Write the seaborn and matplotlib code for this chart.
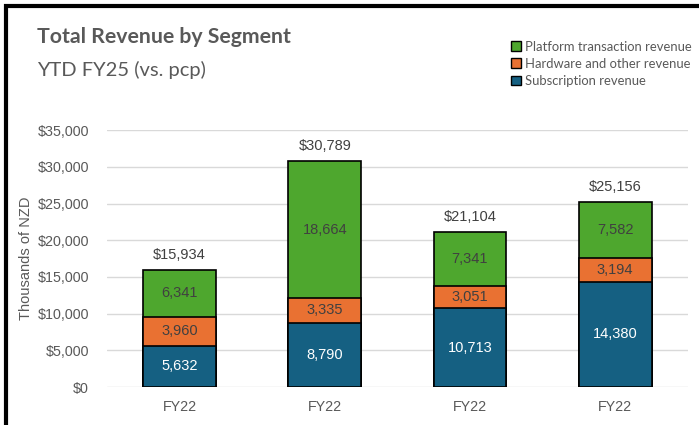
import matplotlib
matplotlib.use("Agg")
import matplotlib.pyplot as plt
from matplotlib.patches import Rectangle, Patch
import seaborn as sns
import pandas as pd
import numpy as np

periods = ["P1", "P2", "P3", "P4"]
tick_labels = ["FY22", "FY22", "FY22", "FY22"]
subscription = [5632, 8790, 10713, 14380]
hardware = [3960, 3335, 3051, 3194]
platform = [6341, 18664, 7341, 7582]
total_labels = [15934, 30789, 21104, 25156]

c_sub = "#156082"
c_hw = "#E97132"
c_plat = "#4EA72E"
grey = "#595959"

sns.set_theme(style="white")
plt.rcParams["font.family"] = ["Liberation Sans", "DejaVu Sans"]

sub = np.array(subscription)
hw = np.array(hardware)
plat = np.array(platform)
totals = sub + hw + plat

df = pd.DataFrame({
    "period": periods,
    "total": totals,
    "sub_hw": sub + hw,
    "sub": sub,
})

fig = plt.figure(figsize=(6.99, 4.25), dpi=100)
ax = fig.add_axes([0.153, 0.089, 0.831, 0.605])

# stack by drawing cumulative heights back to front
for col, colr in [("total", c_plat), ("sub_hw", c_hw), ("sub", c_sub)]:
    sns.barplot(data=df, x="period", y=col, color=colr, width=0.5,
                edgecolor="black", linewidth=1.2, saturation=1, ax=ax, zorder=3)

ax.set_ylim(0, 35000)
ax.set_xlim(-0.5, 3.5)
ax.set_yticks(np.arange(0, 35001, 5000))
ax.set_yticklabels([f"${v:,.0f}" for v in np.arange(0, 35001, 5000)])
ax.set_xticks(range(4))
ax.set_xticklabels(tick_labels)
ax.tick_params(axis="both", colors=grey, labelsize=10.3, length=0)
ax.tick_params(axis="y", pad=13)
ax.tick_params(axis="x", pad=9)
ax.yaxis.grid(True, color="#D9D9D9", linewidth=1)
ax.set_axisbelow(True)
for s in ax.spines.values():
    s.set_visible(False)
ax.set_xlabel("")
ax.set_ylabel("Thousands of NZD", color=grey, fontsize=10.5, labelpad=3)

for i in range(4):
    ax.text(i, sub[i] / 2, f"{sub[i]:,}", ha="center", va="center",
            color="white", fontsize=10.5, zorder=5)
    ax.text(i, sub[i] + hw[i] / 2, f"{hw[i]:,}", ha="center", va="center",
            color="#404040", fontsize=10.5, zorder=5)
    ax.text(i, sub[i] + hw[i] + plat[i] / 2, f"{plat[i]:,}", ha="center",
            va="center", color="#404040", fontsize=10.5, zorder=5)
    ax.text(i, totals[i] + 1100, f"${total_labels[i]:,}", ha="center", va="bottom",
            color="#404040", fontsize=10.5, zorder=5)

fig.text(0.053, 0.898, "Total Revenue by Segment", fontsize=15.3,
         fontweight="bold", color=grey, family=["Lato", "DejaVu Sans"])
fig.text(0.053, 0.822, "YTD FY25 (vs. pcp)", fontsize=14.5, color=grey,
         family=["Lato", "DejaVu Sans"])

handles = [Patch(facecolor=c_plat, edgecolor="black", label="Platform transaction revenue"),
           Patch(facecolor=c_hw, edgecolor="black", label="Hardware and other revenue"),
           Patch(facecolor=c_sub, edgecolor="black", label="Subscription revenue")]
leg = fig.legend(handles=handles, loc="upper left", bbox_to_anchor=(0.722, 0.92),
                 frameon=False, handlelength=0.75, handleheight=0.75,
                 handletextpad=0.3, labelspacing=0.4, borderpad=0,
                 prop={"family": ["Lato", "DejaVu Sans"], "size": 9.4})
for t in leg.get_texts():
    t.set_color(grey)

fig.patches.append(Rectangle((0.009, -0.2), 1.2, 1.2 - 0.015, transform=fig.transFigure,
                             fill=False, edgecolor="black", linewidth=3))

fig.savefig("out.png", dpi=100)
